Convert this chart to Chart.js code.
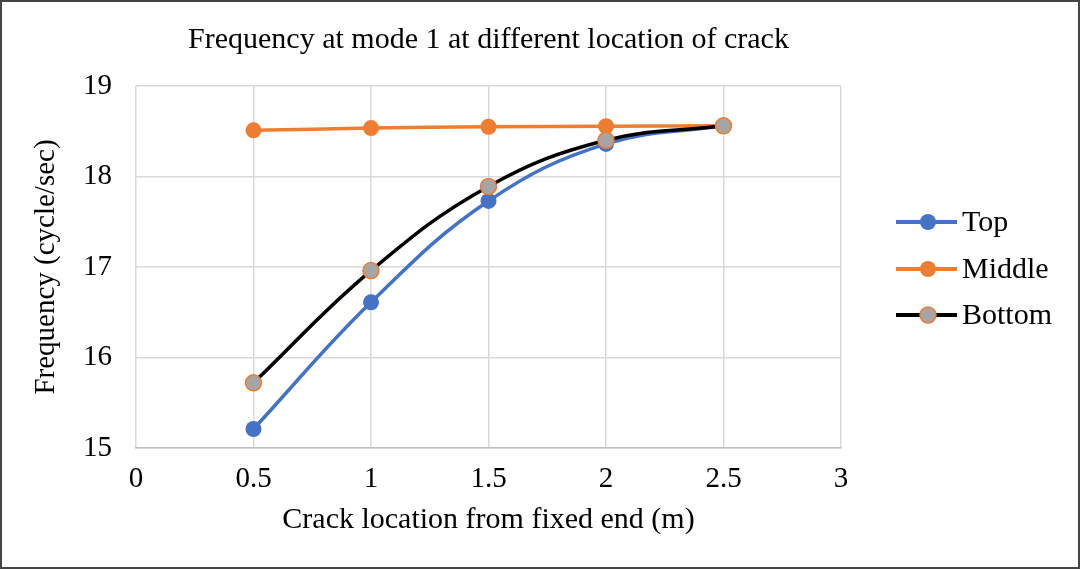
<!DOCTYPE html>
<html>
<head>
<meta charset="utf-8">
<script src="https://cdn.jsdelivr.net/npm/chart.js@4.4.0/dist/chart.umd.min.js"></script>
<style>
html,body{margin:0;padding:0;background:#fff;}
#wrap{width:1080px;height:569px;position:relative;}
</style>
</head>
<body>
<div id="wrap"><canvas id="c" width="1080" height="569"></canvas></div>
<script>
const chartTitle = 'Frequency at mode 1 at different location of crack';
const xAxisTitle = 'Crack location from fixed end (m)';
const yAxisTitle = 'Frequency (cycle/sec)';
const crackLocations = [0.5, 1, 1.5, 2, 2.5];
const seriesNames = ['Top', 'Middle', 'Bottom'];
const topValues = [15.21, 16.61, 17.73, 18.36, 18.56];
const middleValues = [18.51, 18.535, 18.55, 18.555, 18.56];
const bottomValues = [15.72, 16.96, 17.89, 18.40, 18.56];
const xTickMin = 0, xTickMax = 3, xTickStep = 0.5;
const yTickMin = 15, yTickMax = 19, yTickStep = 1;

const FONT = "'Liberation Serif', 'Times New Roman', serif";

function pts(vals){ return crackLocations.map((x,i)=>({x:x,y:vals[i]})); }

const styles = [
  {line:'#4472c4', fill:'#4472c4', border:'#4472c4', bw:0, order:2},
  {line:'#ed7d31', fill:'#ed7d31', border:'#ed7d31', bw:0, order:1},
  {line:'#000000', fill:'#a5a5a5', border:'#ed7d31', bw:1.5, order:0}
];
const allVals = [topValues, middleValues, bottomValues];

const datasets = allVals.map((v,i)=>({
  label: seriesNames[i],
  data: pts(v),
  order: styles[i].order,
  borderColor: styles[i].line,
  borderWidth: 3.5,
  backgroundColor: styles[i].fill,
  pointBackgroundColor: styles[i].fill,
  pointBorderColor: styles[i].border,
  pointBorderWidth: styles[i].bw,
  pointRadius: 8,
  pointHoverRadius: 8,
  tension: 0.4,
  fill: false
}));

const framePlugin = {
  id:'frame',
  afterDraw(chart){
    const ctx = chart.ctx;
    ctx.save();
    ctx.strokeStyle = '#444';
    ctx.lineWidth = 2;
    ctx.strokeRect(1,1,chart.width-2,chart.height-2);
    const ca = chart.chartArea;
    ctx.fillStyle = '#000';
    ctx.font = "30px " + FONT;
    ctx.textAlign = 'center';
    ctx.textBaseline = 'middle';
    ctx.fillText(chartTitle, (ca.left+ca.right)/2, 40);
    const lx = 896, ys = [222, 269, 315];
    chart.data.datasets.forEach((ds,i)=>{
      const y = ys[i];
      ctx.strokeStyle = ds.borderColor;
      ctx.lineWidth = 4;
      ctx.beginPath(); ctx.moveTo(lx, y); ctx.lineTo(lx+61, y); ctx.stroke();
      ctx.beginPath(); ctx.arc(lx+32, y, 8, 0, Math.PI*2);
      ctx.fillStyle = ds.pointBackgroundColor; ctx.fill();
      if (ds.pointBorderWidth>0){ ctx.lineWidth = ds.pointBorderWidth; ctx.strokeStyle = ds.pointBorderColor; ctx.stroke(); }
      ctx.fillStyle = '#000';
      ctx.textAlign = 'left';
      ctx.font = "30px " + FONT;
      ctx.fillText(ds.label, lx+66, y+1);
    });
    ctx.restore();
  }
};

new Chart(document.getElementById('c'), {
  type:'line',
  data:{datasets: datasets},
  plugins:[framePlugin],
  options:{
    responsive:false,
    animation:false,
    layout:{padding:{top:86, right:239, left:0, bottom:0}},
    plugins:{legend:{display:false}, title:{display:false}, tooltip:{enabled:false}},
    scales:{
      x:{
        type:'linear', min:xTickMin, max:xTickMax,
        ticks:{stepSize:xTickStep, color:'#000', font:{family:FONT, size:29}, padding:14,
          callback:(v)=>String(v)},
        grid:{color:'#d9d9d9', lineWidth:1.5, drawTicks:false},
        border:{color:'#bfbfbf', width:1.5},
        title:{display:true, text:xAxisTitle, color:'#000', font:{family:FONT, size:30}, padding:{top:0,bottom:31}},
        afterFit(s){ s.height = 121; }
      },
      y:{
        min:yTickMin, max:yTickMax,
        ticks:{stepSize:yTickStep, color:'#000', font:{family:FONT, size:29}, padding:24},
        grid:{color:'#d9d9d9', lineWidth:1.5, drawTicks:false},
        border:{display:false},
        title:{display:true, text:yAxisTitle, color:'#000', font:{family:FONT, size:29}, padding:{top:29,bottom:0}},
        afterFit(s){ s.width = 136; }
      }
    }
  }
});
</script>
</body>
</html>
